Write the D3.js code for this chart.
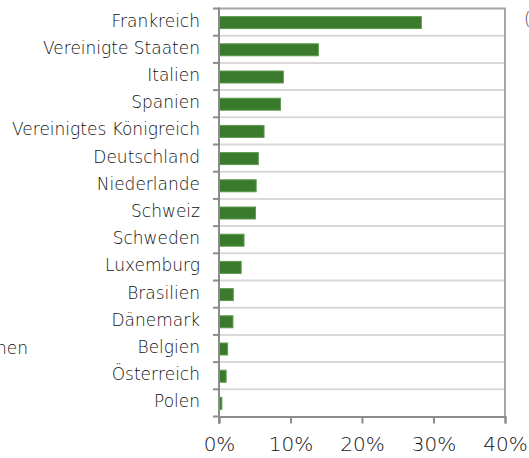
<!DOCTYPE html>
<html>
<head>
<meta charset="utf-8">
<script src="https://cdn.jsdelivr.net/npm/d3@7"></script>
<style>
  body { margin: 0; background: #fff; }
  svg { display: block; font-family: "DejaVu Sans", sans-serif; }
</style>
</head>
<body>
<div id="the_chart"></div>
<script>
var countries = ["Frankreich", "Vereinigte Staaten", "Italien", "Spanien", "Vereinigtes Königreich",
	"Deutschland", "Niederlande", "Schweiz", "Schweden", "Luxemburg", "Brasilien", "Dänemark",
	"Belgien", "Österreich", "Polen"];
var shares = [28.3, 13.9, 9.0, 8.6, 6.3, 5.5, 5.2, 5.1, 3.5, 3.1, 2.0, 1.95, 1.2, 1.0, 0.4];
var xTicks = [0, 10, 20, 30, 40];

var dataset = countries.map(function (c, i) { return { name: c, value: shares[i] }; });

var w = 529;
var h = 458;
var plotL = 219, plotR = 505, plotT = 8.5, plotB = 416.5;
var fontW = 200;

var svg = d3.select("#the_chart")
	.append("svg")
	.attr("width", w)
	.attr("height", h);

var xscale = d3.scaleLinear()
	.domain([0, 40])
	.range([plotL, plotR]);

var yscale = d3.scaleBand()
	.domain(countries)
	.range([plotT, plotB]);

// gridlines between categories
var bounds = d3.range(countries.length + 1).map(function (i) { return plotT + i * yscale.step(); });

svg.selectAll("line.grid")
	.data(bounds.slice(1, -1))
	.enter().append("line")
	.attr("class", "grid")
	.attr("x1", plotL).attr("x2", plotR)
	.attr("y1", function (d) { return d; })
	.attr("y2", function (d) { return d; })
	.attr("stroke", "#d9d9d9")
	.attr("stroke-width", 2);

// frame top / right
svg.append("path")
	.attr("d", "M" + plotL + "," + plotT + "H" + plotR + "V" + plotB)
	.attr("fill", "none")
	.attr("stroke", "#a6a6a6")
	.attr("stroke-width", 2);

// bars
var bh = 12;
svg.selectAll("rect.bar")
	.data(dataset)
	.enter().append("rect")
	.attr("class", "bar")
	.attr("x", xscale(0))
	.attr("y", function (d) { return yscale(d.name) + yscale.bandwidth() / 2 - bh / 2 + 0.5; })
	.attr("width", function (d) { return xscale(d.value) - xscale(0); })
	.attr("height", bh)
	.attr("fill", "#3a7a2c")
	.attr("stroke", "#5f9a50")
	.attr("stroke-width", 1);

// left axis ticks at band boundaries
svg.selectAll("line.ytick")
	.data(bounds)
	.enter().append("line")
	.attr("class", "ytick")
	.attr("x1", plotL - 6).attr("x2", plotL)
	.attr("y1", function (d) { return d; })
	.attr("y2", function (d) { return d; })
	.attr("stroke", "#8c8c8c")
	.attr("stroke-width", 2);

// x axis
var xaxis = d3.axisBottom(xscale)
	.tickValues(xTicks)
	.tickSize(7)
	.tickFormat(function (d) { return d + "%"; });

var gx = svg.append("g")
	.attr("transform", "translate(0," + plotB + ")")
	.call(xaxis);
gx.select(".domain").attr("stroke", "#8c8c8c").attr("stroke-width", 2);
gx.selectAll(".tick line").attr("stroke", "#8c8c8c").attr("stroke-width", 2);
gx.selectAll(".tick text")
	.attr("y", 20)
	.attr("dy", "0.71em")
	.attr("fill", "#111")
	.attr("font-size", 20)
	.attr("font-weight", fontW)
	.attr("font-family", "DejaVu Sans, sans-serif");

// y axis line
svg.append("line")
	.attr("x1", plotL).attr("x2", plotL)
	.attr("y1", plotT - 1).attr("y2", plotB + 7)
	.attr("stroke", "#8c8c8c")
	.attr("stroke-width", 2);

// category labels
svg.selectAll("text.cat")
	.data(dataset)
	.enter().append("text")
	.attr("class", "cat")
	.attr("x", 200)
	.attr("y", function (d) { return yscale(d.name) + yscale.bandwidth() / 2 - 1.5; })
	.attr("dy", "0.35em")
	.attr("text-anchor", "end")
	.attr("font-size", 17)
	.attr("font-weight", fontW)
	.attr("fill", "#111")
	.text(function (d) { return d.name; });

// clipped fragments from neighbouring content
svg.append("text")
	.attr("x", 28).attr("y", 348).attr("dy", "0.35em")
	.attr("text-anchor", "end")
	.attr("font-size", 17).attr("font-weight", fontW).attr("fill", "#111")
	.text("hen");
svg.append("text")
	.attr("x", 524).attr("y", 19).attr("dy", "0.35em")
	.attr("font-size", 17).attr("font-weight", fontW).attr("fill", "#444")
	.text("(");
</script>
</body>
</html>
